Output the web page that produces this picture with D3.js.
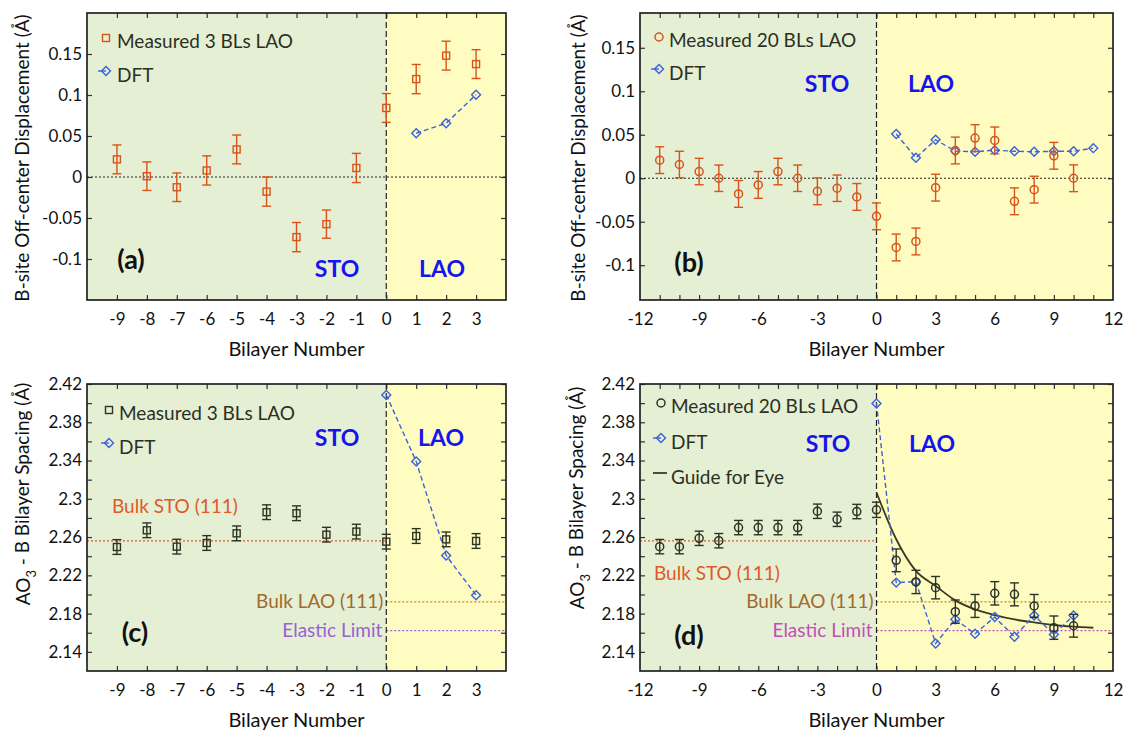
<!DOCTYPE html>
<html><head><meta charset="utf-8">
<script src="https://cdn.jsdelivr.net/npm/d3@7"></script>
<style>body{margin:0;background:#fff} text{font-family:Lato,'Open Sans',sans-serif}</style>
</head><body><svg id="fig" width="1129" height="734"></svg>
<script>
// ---------- data ----------
const bilayerA = [-9,-8,-7,-6,-5,-4,-3,-2,-1,0,1,2,3];
const measuredA = [0.0215,0.001,-0.0125,0.008,0.0336,-0.0178,-0.0733,-0.0575,0.011,0.0842,0.1194,0.148,0.1377];
const errorA = [0.0176,0.0174,0.0174,0.0178,0.0176,0.0178,0.0178,0.0172,0.0178,0.0176,0.0178,0.0176,0.0176];
const dftBilayerA = [1,2,3];
const dftA = [0.0534,0.0656,0.1004];

const bilayerB = [-11,-10,-9,-8,-7,-6,-5,-4,-3,-2,-1,0,1,2,3,4,5,6,7,8,9,10];
const measuredB = [0.0208,0.0158,0.0077,0,-0.018,-0.0077,0.0077,0,-0.015,-0.0115,-0.0215,-0.0438,-0.0796,-0.0727,-0.0108,0.0319,0.0462,0.0435,-0.0265,-0.0131,0.0258,0];
const errorB = [0.0154,0.0152,0.0152,0.0152,0.0154,0.0154,0.0152,0.0152,0.0154,0.0152,0.0154,0.0154,0.0154,0.0154,0.0154,0.0154,0.0154,0.0154,0.0154,0.0154,0.0154,0.0154];
const dftBilayerB = [1,2,3,4,5,6,7,8,9,10,11];
const dftB = [0.0508,0.0235,0.0442,0.0312,0.0304,0.0323,0.031,0.0304,0.031,0.031,0.0346];

const bilayerC = [-9,-8,-7,-6,-5,-4,-3,-2,-1,0,1,2,3];
const measuredC = [2.2496,2.2671,2.25,2.2538,2.2639,2.286,2.2849,2.2625,2.2657,2.2552,2.2611,2.2576,2.2559];
const errorC = [0.0077,0.0077,0.0077,0.0077,0.0077,0.0077,0.0077,0.0077,0.0077,0.0077,0.0077,0.0077,0.0077];
const dftBilayerC = [0,1,2,3];
const dftC = [2.4085,2.3389,2.2408,2.1992];

const bilayerD = [-11,-10,-9,-8,-7,-6,-5,-4,-3,-2,-1,0,1,2,3,4,5,6,7,8,9,10];
const measuredD = [2.250,2.250,2.2587,2.2562,2.2699,2.2699,2.2699,2.2699,2.287,2.2786,2.2867,2.2885,2.2357,2.2131,2.2071,2.182,2.188,2.2012,2.2001,2.188,2.1653,2.1673];
const errorD = [0.0075,0.0075,0.0075,0.0075,0.0075,0.0075,0.0075,0.0075,0.0075,0.0075,0.0075,0.008,0.0119,0.0122,0.0117,0.0122,0.012,0.0122,0.012,0.012,0.0122,0.0119];
const dftBilayerD = [0,1,2,3,4,5,6,7,8,9,10];
const dftD = [2.3997,2.2124,2.2134,2.1488,2.174,2.159,2.1764,2.1558,2.1781,2.1582,2.1781];
const guideBilayerD = [0,1,2,3,4,5,6,7,8,9,10,11];
const guideD = [2.3066,2.2577,2.2246,2.2089,2.1938,2.1844,2.1785,2.1739,2.1708,2.1681,2.1663,2.1652];

const bulkSTO = 2.256;
const bulkLAO = 2.1922;
const elasticLimit = 2.1622;

const xTicksAC = [-9,-8,-7,-6,-5,-4,-3,-2,-1,0,1,2,3];
const xTickLabelsBD = [-12,-9,-6,-3,0,3,6,9,12];
const xMinorBD = [-11,-10,-9,-8,-7,-6,-5,-4,-3,-2,-1,0,1,2,3,4,5,6,7,8,9,10,11];
const yTicksAB = [-0.1,-0.05,0,0.05,0.1,0.15];
const yTickLabelsAB = ["-0.1","-0.05","0","0.05","0.1","0.15"];
const yTicksCD = [2.14,2.18,2.22,2.26,2.3,2.34,2.38,2.42];
const yTickLabelsCD = ["2.14","2.18","2.22","2.26","2.3","2.34","2.38","2.42"];
const yMinorCD = [2.14,2.16,2.18,2.2,2.22,2.24,2.26,2.28,2.3,2.32,2.34,2.36,2.38,2.4,2.42];

// ---------- styles ----------
const C = {
  orange:"#d95319", blue:"#3d62d8", dark:"#2e3424", guide:"#3a3a22",
  stoBg:"#e5efd4", laoBg:"#fffcc2", region:"#1414ee",
  bulkSTO:"#de5a28", bulkLAOtxt:"#a06a2c", bulkLAOline:"#c8861c",
  elasticC:"#9a5fd4", elasticD:"#c24fb8", legendTxt:"#2b3024"
};
const svg = d3.select("#fig");

function panel(o){
  const g = svg.append("g");
  const x = d3.scaleLinear().domain(o.xd).range([o.L,o.R]);
  const y = d3.scaleLinear().domain(o.yd).range([o.B,o.T]);
  // backgrounds
  g.append("rect").attr("x",o.L).attr("y",o.T).attr("width",x(0)-o.L).attr("height",o.B-o.T).attr("fill",C.stoBg);
  g.append("rect").attr("x",x(0)).attr("y",o.T).attr("width",o.R-x(0)).attr("height",o.B-o.T).attr("fill",C.laoBg);

  // ticks via axes (inward)
  const tk = 5;
  const xt = o.xMinor || o.xTicks;
  const styleTicks = a=>{a.select(".domain").remove(); a.selectAll("line").attr("stroke","#333").attr("stroke-width",1.2);};
  g.append("g").attr("transform",`translate(0,${o.B})`)
    .call(d3.axisBottom(x).tickValues(xt).tickSize(-tk).tickFormat("")).call(styleTicks);
  g.append("g").attr("transform",`translate(0,${o.T})`)
    .call(d3.axisTop(x).tickValues(xt).tickSize(-tk).tickFormat("")).call(styleTicks);
  const yt = o.yMinor || o.yTicks;
  g.append("g").attr("transform",`translate(${o.L},0)`)
    .call(d3.axisLeft(y).tickValues(yt).tickSize(-tk).tickFormat("")).call(styleTicks);
  g.append("g").attr("transform",`translate(${o.R},0)`)
    .call(d3.axisRight(y).tickValues(yt).tickSize(-tk).tickFormat("")).call(styleTicks);
  // tick labels
  g.append("g").attr("transform",`translate(0,${o.B})`)
    .call(d3.axisBottom(x).tickValues(o.xTicks).tickSize(0).tickPadding(13).tickFormat(d=>String(d)))
    .call(a=>{a.select(".domain").remove(); a.selectAll("text").attr("font-size",17).attr("fill","#111").attr("font-family","Lato");});
  g.append("g").attr("transform",`translate(${o.L},0)`)
    .call(d3.axisLeft(y).tickValues(o.yTicks).tickSize(0).tickPadding(5).tickFormat((d,i)=>o.yLabels[i]))
    .call(a=>{a.select(".domain").remove(); a.selectAll("text").attr("font-size",17).attr("fill","#111").attr("font-family","Lato");});

  // axis titles
  g.append("text").attr("x",(o.L+o.R)/2).attr("y",o.B+56).attr("text-anchor","middle")
    .attr("font-size",20).attr("fill","#111").text("Bilayer Number");
  const yt2 = g.append("text").attr("transform",`translate(${o.ytx},${o.yty}) rotate(-90)`)
    .attr("text-anchor","middle").attr("font-size",19).attr("fill","#111").attr("dy","0.35em");
  if(o.spacing){
    yt2.append("tspan").text("AO");
    yt2.append("tspan").text("3").attr("font-size",13).attr("dy","0.45em");
    yt2.append("tspan").text(" - B Bilayer Spacing (Å)").attr("dy","-0.32em");
  } else yt2.text("B-site Off-center Displacement (Å)");

  // reference lines
  if(o.zeroLine){
    g.append("line").attr("x1",o.L).attr("x2",o.R).attr("y1",y(0)).attr("y2",y(0))
      .attr("stroke","#222").attr("stroke-width",1.2).attr("stroke-dasharray","2,2");
  }
  if(o.refs){
    g.append("line").attr("x1",o.L).attr("x2",x(0)).attr("y1",y(bulkSTO)).attr("y2",y(bulkSTO))
      .attr("stroke",C.bulkSTO).attr("stroke-width",1.3).attr("stroke-dasharray","2,2");
    g.append("line").attr("x1",x(0)).attr("x2",o.R).attr("y1",y(bulkLAO)).attr("y2",y(bulkLAO))
      .attr("stroke",C.bulkLAOline).attr("stroke-width",1.3).attr("stroke-dasharray","2,2");
    g.append("line").attr("x1",x(0)).attr("x2",o.R).attr("y1",y(elasticLimit)).attr("y2",y(elasticLimit))
      .attr("stroke",o.elasticCol).attr("stroke-width",1.3).attr("stroke-dasharray","2,2");
    g.append("text").attr("x",o.stoLbl[0]).attr("y",o.stoLbl[1]).attr("dy","0.35em").attr("font-size",19)
      .attr("fill",C.bulkSTO).text("Bulk STO (111)");
    g.append("text").attr("x",x(0)-3).attr("y",y(bulkLAO)).attr("dy","0.33em").attr("text-anchor","end").attr("font-size",19)
      .attr("fill",C.bulkLAOtxt).text("Bulk LAO (111)");
    g.append("text").attr("x",x(0)-4).attr("y",y(elasticLimit)).attr("dy","0.33em").attr("text-anchor","end").attr("font-size",19)
      .attr("fill",o.elasticCol).text("Elastic Limit");
  }
  // divider
  g.append("line").attr("x1",x(0)).attr("x2",x(0)).attr("y1",o.T).attr("y2",o.B)
    .attr("stroke","#222").attr("stroke-width",1.2).attr("stroke-dasharray","6,3");

  // guide curve
  if(o.guide){
    g.append("path").datum(o.guide.x.map((v,i)=>[v,o.guide.y[i]]))
      .attr("d",d3.line().x(d=>x(d[0])).y(d=>y(d[1])).curve(d3.curveMonotoneX))
      .attr("fill","none").attr("stroke",C.guide).attr("stroke-width",1.8);
  }
  // DFT
  const dftPts = o.dft.x.map((v,i)=>[v,o.dft.y[i]]);
  g.append("path").datum(dftPts).attr("d",d3.line().x(d=>x(d[0])).y(d=>y(d[1])))
    .attr("fill","none").attr("stroke",C.blue).attr("stroke-width",1.4).attr("stroke-dasharray","5,3");
  const dsym = d3.symbol().type(d3.symbolSquare).size(40);
  g.selectAll(null).data(dftPts).join("path").attr("d",dsym)
    .attr("transform",d=>`translate(${x(d[0])},${y(d[1])}) rotate(45)`)
    .attr("fill","none").attr("stroke",C.blue).attr("stroke-width",1.4);

  // measured with error bars
  const mPts = o.meas.x.map((v,i)=>({x:v,y:o.meas.y[i],e:o.meas.e[i]}));
  const eb = g.append("g").attr("stroke",o.mcol).attr("stroke-width",1.4).attr("fill","none");
  mPts.forEach(d=>{
    const cx=x(d.x), y1=y(d.y-d.e), y2=y(d.y+d.e), w=4.5;
    eb.append("line").attr("x1",cx).attr("x2",cx).attr("y1",y1).attr("y2",y2);
    eb.append("line").attr("x1",cx-w).attr("x2",cx+w).attr("y1",y1).attr("y2",y1);
    eb.append("line").attr("x1",cx-w).attr("x2",cx+w).attr("y1",y2).attr("y2",y2);
  });
  if(o.marker==="square"){
    g.selectAll(null).data(mPts).join("rect").attr("x",d=>x(d.x)-3.5).attr("y",d=>y(d.y)-3.5)
      .attr("width",7).attr("height",7).attr("fill","none").attr("stroke",o.mcol).attr("stroke-width",1.4);
  } else {
    g.selectAll(null).data(mPts).join("circle").attr("cx",d=>x(d.x)).attr("cy",d=>y(d.y)).attr("r",4)
      .attr("fill","none").attr("stroke",o.mcol).attr("stroke-width",1.5);
  }

  // frame
  g.append("rect").attr("x",o.L).attr("y",o.T).attr("width",o.R-o.L).attr("height",o.B-o.T)
    .attr("fill","none").attr("stroke","#222").attr("stroke-width",1.7);

  // legend
  const lg = o.legend;
  const row = (yy,txt)=>g.append("text").attr("x",lg.tx).attr("y",yy).attr("dy","0.35em")
      .attr("font-size",19).attr("fill",C.legendTxt).text(txt);
  if(o.marker==="square") g.append("rect").attr("x",lg.mx-3.5).attr("y",lg.y1-3.5).attr("width",7).attr("height",7)
      .attr("fill","none").attr("stroke",o.mcol).attr("stroke-width",1.4);
  else g.append("circle").attr("cx",lg.mx).attr("cy",lg.y1).attr("r",4).attr("fill","none").attr("stroke",o.mcol).attr("stroke-width",1.5);
  row(lg.y1+3,o.measLabel);
  g.append("line").attr("x1",lg.mx-8).attr("x2",lg.mx).attr("y1",lg.y2).attr("y2",lg.y2).attr("stroke",C.blue).attr("stroke-width",1.4);
  g.append("path").attr("d",dsym).attr("transform",`translate(${lg.mx},${lg.y2}) rotate(45)`)
    .attr("fill","none").attr("stroke",C.blue).attr("stroke-width",1.4);
  row(lg.y2+4,"DFT");
  if(o.guide){
    g.append("line").attr("x1",lg.mx-8).attr("x2",lg.mx+6).attr("y1",lg.y3).attr("y2",lg.y3).attr("stroke",C.guide).attr("stroke-width",1.8);
    row(lg.y3+4,"Guide for Eye");
  }
  // region labels
  g.append("text").attr("x",o.sto[0]).attr("y",o.sto[1]).attr("dy","0.35em").attr("text-anchor","middle")
    .attr("font-size",23).attr("font-weight","bold").attr("fill",C.region).text("STO");
  g.append("text").attr("x",o.lao[0]).attr("y",o.lao[1]).attr("dy","0.35em").attr("text-anchor","middle")
    .attr("font-size",23).attr("font-weight","bold").attr("fill",C.region).text("LAO");
  g.append("text").attr("x",o.letter[0]).attr("y",o.letter[1]).attr("dy","0.35em").attr("text-anchor","middle")
    .attr("font-size",27).attr("font-weight","bold").attr("fill","#111").text(o.letter[2]);
}

panel({L:87,R:506,T:13,B:300, xd:[-10,4], yd:[-0.15,0.2], xTicks:xTicksAC, yTicks:yTicksAB, yLabels:yTickLabelsAB,
  ytx:22, yty:158, zeroLine:true,
  meas:{x:bilayerA,y:measuredA,e:errorA}, mcol:C.orange, marker:"square", measLabel:"Measured 3 BLs LAO",
  dft:{x:dftBilayerA,y:dftA},
  legend:{mx:106,tx:117,y1:38,y2:71},
  sto:[337,269], lao:[442,269], letter:[131,260,"(a)"]});

panel({L:640,R:1113,T:13,B:300, xd:[-12,12], yd:[-0.14,0.19], xTicks:xTickLabelsBD, xMinor:xMinorBD, yTicks:yTicksAB, yLabels:yTickLabelsAB,
  ytx:578, yty:158, zeroLine:true,
  meas:{x:bilayerB,y:measuredB,e:errorB}, mcol:C.orange, marker:"circle", measLabel:"Measured 20 BLs LAO",
  dft:{x:dftBilayerB,y:dftB},
  legend:{mx:659,tx:669,y1:37,y2:69},
  sto:[827,84], lao:[931,84], letter:[689,263,"(b)"]});

panel({L:87,R:506,T:384,B:671, xd:[-10,4], yd:[2.12,2.42], xTicks:xTicksAC, yTicks:yTicksCD, yMinor:yMinorCD, yLabels:yTickLabelsCD,
  ytx:23, yty:494, spacing:true, refs:true, elasticCol:C.elasticC, stoLbl:[112,506],
  meas:{x:bilayerC,y:measuredC,e:errorC}, mcol:C.dark, marker:"square", measLabel:"Measured 3 BLs LAO",
  dft:{x:dftBilayerC,y:dftC},
  legend:{mx:109,tx:119,y1:410,y2:443},
  sto:[337,438], lao:[441,438], letter:[135,633,"(c)"]});

panel({L:640,R:1113,T:384,B:671, xd:[-12,12], yd:[2.12,2.42], xTicks:xTickLabelsBD, xMinor:xMinorBD, yTicks:yTicksCD, yMinor:yMinorCD, yLabels:yTickLabelsCD,
  ytx:577, yty:498, spacing:true, refs:true, elasticCol:C.elasticD, stoLbl:[654,573],
  meas:{x:bilayerD,y:measuredD,e:errorD}, mcol:C.dark, marker:"circle", measLabel:"Measured 20 BLs LAO",
  dft:{x:dftBilayerD,y:dftD}, guide:{x:guideBilayerD,y:guideD},
  legend:{mx:661,tx:671,y1:403,y2:438,y3:473},
  sto:[828,444], lao:[932,444], letter:[689,636,"(d)"]});
</script></body></html>
